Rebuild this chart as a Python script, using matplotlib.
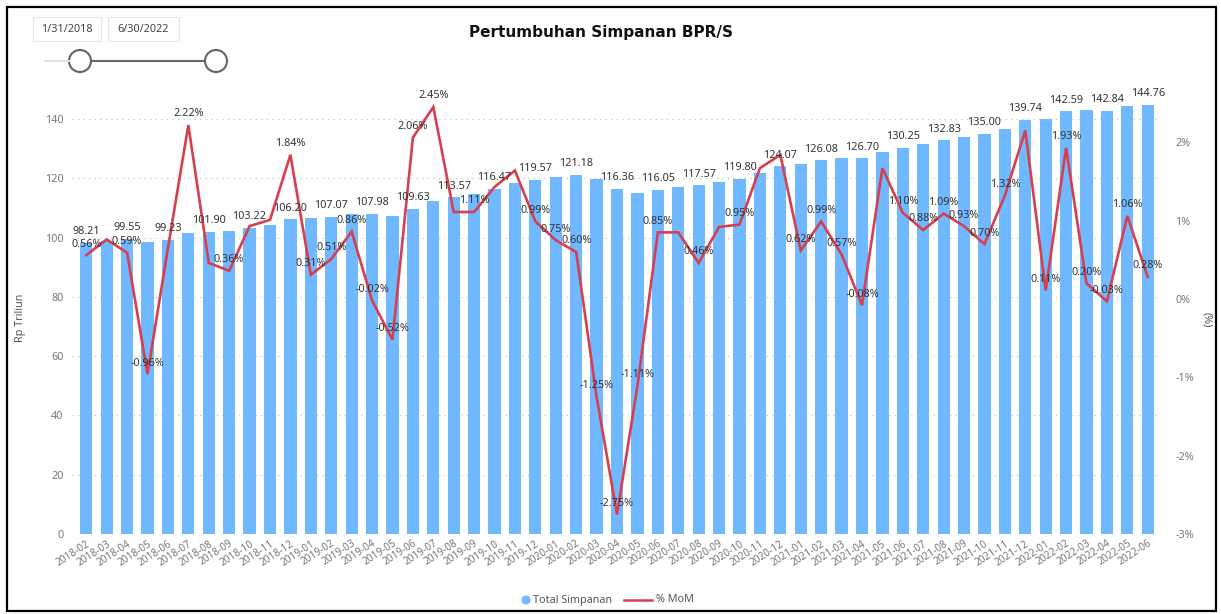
import matplotlib
matplotlib.use("Agg")
import matplotlib.pyplot as plt
from matplotlib.patches import Rectangle, Circle
from matplotlib.lines import Line2D

plt.rcParams['font.family'] = ['Noto Sans', 'DejaVu Sans']

months = ["2018-02", "2018-03", "2018-04", "2018-05", "2018-06", "2018-07", "2018-08", "2018-09",
          "2018-10", "2018-11", "2018-12", "2019-01", "2019-02", "2019-03", "2019-04", "2019-05",
          "2019-06", "2019-07", "2019-08", "2019-09", "2019-10", "2019-11", "2019-12", "2020-01",
          "2020-02", "2020-03", "2020-04", "2020-05", "2020-06", "2020-07", "2020-08", "2020-09",
          "2020-10", "2020-11", "2020-12", "2021-01", "2021-02", "2021-03", "2021-04", "2021-05",
          "2021-06", "2021-07", "2021-08", "2021-09", "2021-10", "2021-11", "2021-12", "2022-01",
          "2022-02", "2022-03", "2022-04", "2022-05", "2022-06"]

total_simpanan = [98.21, 98.96, 99.55, 98.59, 99.23, 101.43, 101.90, 102.27,
                  103.22, 104.26, 106.20, 106.53, 107.07, 107.99, 107.98, 107.42,
                  109.63, 112.32, 113.57, 114.83, 116.47, 118.38, 119.57, 120.47,
                  121.18, 119.67, 116.36, 115.07, 116.05, 117.04, 117.57, 118.66,
                  119.80, 121.80, 124.07, 124.84, 126.08, 126.80, 126.70, 128.82,
                  130.25, 131.39, 132.83, 134.06, 135.00, 136.78, 139.74, 139.89,
                  142.59, 142.88, 142.84, 144.35, 144.76]

mom_pct = [0.56, 0.76, 0.59, -0.96, 0.65, 2.22, 0.46, 0.36,
           0.93, 1.01, 1.84, 0.31, 0.51, 0.86, -0.02, -0.52,
           2.06, 2.45, 1.11, 1.11, 1.43, 1.64, 0.99, 0.75,
           0.60, -1.25, -2.75, -1.11, 0.85, 0.85, 0.46, 0.92,
           0.95, 1.67, 1.84, 0.62, 0.99, 0.57, -0.08, 1.67,
           1.10, 0.88, 1.09, 0.93, 0.70, 1.32, 2.15, 0.11,
           1.93, 0.20, -0.03, 1.06, 0.28]

bar_label_idx = list(range(0, 53, 2))
mom_label_idx = [0, 2, 3, 5, 7, 10, 11, 12, 13, 14, 15, 16, 17, 19, 22, 23, 24, 25, 26, 27, 28,
                 30, 32, 35, 36, 37, 38, 40, 41, 42, 43, 44, 45, 47, 48, 49, 50, 51, 52]

left_ticks = [0, 20, 40, 60, 80, 100, 120, 140]
right_ticks = [-3, -2, -1, 0, 1, 2]

BAR = '#70B8FF'
RED = '#D6404E'
GRAY = '#777777'
TXT = '#333333'

W, H = 1221, 614
fig = plt.figure(figsize=(W / 100, H / 100), dpi=100)
fig.patch.set_facecolor('white')

ax = fig.add_axes([72 / W, 1 - 534 / H, 1088 / W, 434 / H])
x = list(range(len(months)))
ax.bar(x, total_simpanan, width=0.6, color=BAR, zorder=2)
ax.set_xlim(-0.7, 52.6)
ax.set_ylim(0, 146.4)
ax.set_yticks(left_ticks)
ax.set_yticklabels([str(t) for t in left_ticks], fontsize=7.8, color=GRAY)
ax.grid(axis='y', linestyle=(0, (1, 4)), color='#BBBBBB', lw=0.8, zorder=0)
ax.set_axisbelow(True)
for s in ax.spines.values():
    s.set_visible(False)
ax.tick_params(axis='y', length=0, pad=6)
ax.tick_params(axis='x', length=0, pad=3)
ax.set_xticks(x)
ax.set_xticklabels(months, rotation=33, ha='right', va='top', rotation_mode='anchor',
                   fontsize=7.2, color=GRAY)

ax2 = ax.twinx()
ax2.plot(x, mom_pct, color=RED, lw=1.9, zorder=3, solid_joinstyle='miter')
ax2.set_ylim(-3, 2.54)
ax2.set_yticks(right_ticks)
ax2.set_yticklabels([f"{t}%" for t in right_ticks], fontsize=7.8, color=GRAY)
ax2.tick_params(axis='y', length=0, pad=11)
for s in ax2.spines.values():
    s.set_visible(False)

for i in bar_label_idx:
    ax2.annotate(f"{total_simpanan[i]:.2f}", xy=(i, total_simpanan[i]), xycoords=ax.transData,
                 xytext=(0, 8), textcoords='offset points', ha='center', va='center',
                 fontsize=7.8, color=TXT, zorder=6)
for i in mom_label_idx:
    ax2.annotate(f"{mom_pct[i]:.2f}%", xy=(i, mom_pct[i]), xycoords='data',
                 xytext=(0, 8), textcoords='offset points', ha='center', va='center',
                 fontsize=7.8, color=TXT, zorder=6)

fig.text(601 / W, 1 - 33 / H, "Pertumbuhan Simpanan BPR/S", ha='center', va='center',
         fontsize=11, fontweight='bold', color='#111111', family=['DejaVu Sans'])
fig.text(20 / W, 1 - 318 / H, "Rp Triliun", rotation=90, ha='center', va='center',
         fontsize=7.8, color='#555555')
fig.text(1207 / W, 1 - 320 / H, "(%)", rotation=270, ha='center', va='center',
         fontsize=7.8, color='#555555')

# overlay in pixel coordinates
ov = fig.add_axes([0, 0, 1, 1], zorder=10)
ov.set_xlim(0, W)
ov.set_ylim(H, 0)
ov.axis('off')
ov.patch.set_alpha(0)

# border
ov.add_patch(Rectangle((7, 7), 1209, 604, fill=False, edgecolor='black', lw=1.6))

# date slicer
for (x0, x1, t) in [(33, 101, "1/31/2018"), (108, 179, "6/30/2022")]:
    ov.add_patch(Rectangle((x0, 17), x1 - x0, 24, fill=False, edgecolor='#E6E6E6', lw=0.8))
    ov.text((x0 + x1) / 2, 29, t, ha='center', va='center', fontsize=7.8, color='#444444')
ov.add_line(Line2D([45, 70], [61, 61], color='#E0E0E0', lw=1.5))
ov.add_line(Line2D([91, 205], [61, 61], color='#666666', lw=1.5))
ov.add_patch(Circle((80, 61), 11, facecolor='white', edgecolor='#666666', lw=1.5))
ov.add_patch(Circle((216, 61), 11, facecolor='white', edgecolor='#666666', lw=1.5))

# legend
ov.add_patch(Circle((526, 600), 4.5, facecolor=BAR, edgecolor='none'))
ov.text(533, 600, "Total Simpanan", ha='left', va='center', fontsize=7.8, color='#555555')
ov.add_line(Line2D([624, 652], [600, 600], color=RED, lw=1.8))
ov.text(656, 600, "% MoM", ha='left', va='center', fontsize=7.8, color='#555555')

fig.savefig("out.png", dpi=100, facecolor='white')
